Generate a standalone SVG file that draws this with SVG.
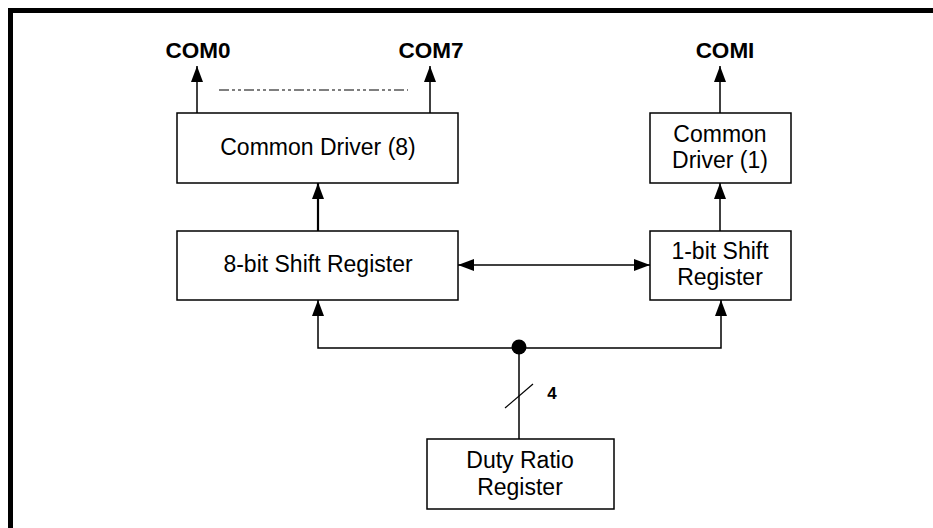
<svg xmlns="http://www.w3.org/2000/svg" width="933" height="528" viewBox="0 0 933 528">
<style>
.box{fill:#fff;stroke:#000;stroke-width:1.5}
.t{font-family:"Liberation Sans",Arial,sans-serif;font-size:23px;fill:#000;text-anchor:middle}
.b{font-family:"Liberation Sans",Arial,sans-serif;font-size:22.5px;font-weight:bold;fill:#000;text-anchor:middle}
.ln{fill:none;stroke:#000;stroke-width:1.5}
</style>
<defs>
<marker id="ah" viewBox="0 0 16 12" refX="16" refY="6" markerWidth="16" markerHeight="12" markerUnits="userSpaceOnUse" orient="auto-start-reverse">
<path d="M0,0 L16,6 L0,12 z" fill="#000"/>
</marker>
</defs>
<rect width="933" height="528" fill="#fff"/>
<path d="M10.5,528 V10.5 H933" fill="none" stroke="#000" stroke-width="5"/>
<g id="connectors">
<line class="ln" x1="197" y1="113" x2="197" y2="66" marker-end="url(#ah)"/>
<line class="ln" x1="430" y1="113" x2="430" y2="66" marker-end="url(#ah)"/>
<line x1="219" y1="90" x2="408" y2="90" stroke="#555" stroke-width="1.5" stroke-dasharray="10,3,3,3,3,3"/>
<line class="ln" x1="720" y1="113" x2="720" y2="66" marker-end="url(#ah)"/>
<line class="ln" style="stroke-width:2.2" x1="318" y1="231" x2="318" y2="183" marker-end="url(#ah)"/>
<line class="ln" x1="720" y1="231" x2="720" y2="183" marker-end="url(#ah)"/>
<line class="ln" x1="458" y1="265" x2="650" y2="265" marker-start="url(#ah)" marker-end="url(#ah)"/>
<path class="ln" d="M519,348 H318 V300" marker-end="url(#ah)"/>
<path class="ln" d="M519,348 H721 V300" marker-end="url(#ah)"/>
<line class="ln" x1="519" y1="348" x2="519" y2="439"/>
<line class="ln" style="stroke-width:1.2" x1="505" y1="408" x2="533" y2="384"/>
<circle cx="519" cy="347" r="7.5" fill="#000"/>
<text class="b" x="552" y="399" style="font-size:17px">4</text>
</g>
<g id="com0"><text class="b" x="198" y="58">COM0</text></g>
<g id="com7"><text class="b" x="431" y="58">COM7</text></g>
<g id="comi"><text class="b" x="725" y="58">COMI</text></g>
<g id="common-driver-8">
<rect class="box" x="177" y="113" width="281" height="70"/>
<text class="t" x="318" y="155">Common Driver (8)</text>
</g>
<g id="common-driver-1">
<rect class="box" x="650" y="113" width="141" height="70"/>
<text class="t" x="720" y="142">Common</text>
<text class="t" x="720" y="168">Driver (1)</text>
</g>
<g id="shift-8">
<rect class="box" x="177" y="231" width="281" height="69"/>
<text class="t" x="318" y="272">8-bit Shift Register</text>
</g>
<g id="shift-1">
<rect class="box" x="650" y="231" width="141" height="69"/>
<text class="t" x="720" y="259">1-bit Shift</text>
<text class="t" x="720" y="285">Register</text>
</g>
<g id="duty-ratio">
<rect class="box" x="427" y="439" width="187" height="70"/>
<text class="t" x="520" y="468">Duty Ratio</text>
<text class="t" x="520" y="495">Register</text>
</g>
</svg>
